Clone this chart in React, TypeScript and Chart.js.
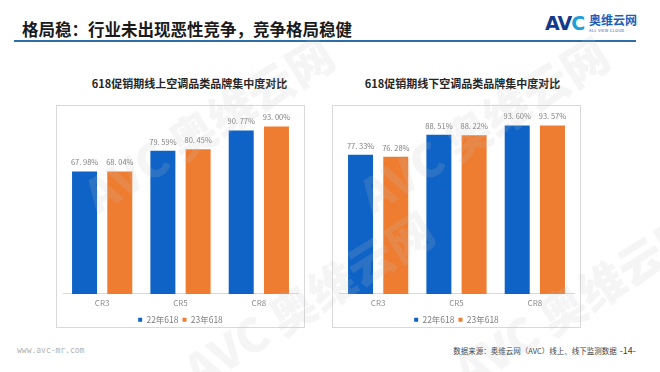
import React, { useEffect, useRef } from "react";
import { Chart, registerables } from "chart.js";
Chart.register(...registerables);

const categories = ["CR3", "CR5", "CR8"];
const seriesNames = ["22年618", "23年618"];
const onlineValues22 = [67.98, 79.59, 90.77];
const onlineValues23 = [68.04, 80.45, 93.0];
const offlineValues22 = [77.33, 88.51, 93.6];
const offlineValues23 = [76.28, 88.22, 93.57];

const BLUE = "#0f63c6";
const ORANGE = "#ef7d31";
const FONT = "'Noto Sans CJK SC', 'Noto Sans', sans-serif";

const labelPlugin = {
  id: "barLabels",
  afterDatasetsDraw(chart: any) {
    const ctx = chart.ctx;
    ctx.save();
    ctx.font = `7.5px ${FONT}`;
    ctx.fillStyle = "#7f7f7f";
    ctx.textAlign = "center";
    ctx.textBaseline = "middle";
    chart.data.datasets.forEach((ds: any, i: number) => {
      const meta = chart.getDatasetMeta(i);
      meta.data.forEach((bar: any, j: number) => {
        const v = ds.data[j] as number;
        ctx.fillText(v.toFixed(2).replace(".", ". ") + "%", bar.x, bar.y - 9);
      });
    });
    ctx.restore();
  },
};

function BarChart({ a, b }: { a: number[]; b: number[] }) {
  const ref = useRef<HTMLCanvasElement>(null);
  useEffect(() => {
    const common = { categoryPercentage: 0.9, barPercentage: 0.71, maxBarThickness: 25, borderWidth: 0 };
    const chart = new Chart(ref.current!, {
      type: "bar",
      data: {
        labels: categories,
        datasets: [
          { label: seriesNames[0], data: a, backgroundColor: BLUE, ...common },
          { label: seriesNames[1], data: b, backgroundColor: ORANGE, ...common },
        ],
      },
      options: {
        animation: false,
        responsive: false,
        maintainAspectRatio: false,
        layout: { padding: { left: 6, right: 6, top: 8, bottom: -7 } },
        plugins: {
          legend: {
            position: "bottom",
            labels: {
              boxWidth: 4,
              boxHeight: 4,
              padding: 4,
              color: "#7f7f7f",
              font: { size: 8.5, family: FONT },
            },
          },
          tooltip: { enabled: false },
        },
        scales: {
          x: {
            grid: { display: false, drawTicks: false },
            border: { display: true, color: "#d9d9d9" },
            ticks: { color: "#8c8c8c", font: { size: 8, family: FONT }, padding: 4 },
          },
          y: { display: false, min: 0, max: 100 },
        },
      },
      plugins: [labelPlugin],
    });
    return () => chart.destroy();
  }, []);
  return <canvas ref={ref} width={247} height={221} style={{ display: "block" }} />;
}

function Panel({ left, title, a, b, shift }: { left: number; title: string; a: number[]; b: number[]; shift: number }) {
  return (
    <>
      <div
        style={{
          position: "absolute",
          left: left + shift,
          top: 75,
          width: 249,
          textAlign: "center",
          fontFamily: FONT,
          fontWeight: 700,
          fontSize: 11,
          color: "#262626",
        }}
      >
        {title}
      </div>
      <div
        style={{
          position: "absolute",
          left,
          top: 105,
          width: 247,
          height: 221,
          border: "1px solid #d9d9d9",
        }}
      >
        <BarChart a={a} b={b} />
      </div>
    </>
  );
}

function Watermark({ x, y }: { x: number; y: number }) {
  return (
    <div
      style={{
        position: "absolute",
        left: x,
        top: y,
        transform: "rotate(-32deg)",
        transformOrigin: "left top",
        color: "rgba(190,190,190,0.16)",
        fontFamily: FONT,
        fontWeight: 900,
        fontSize: 46,
        whiteSpace: "nowrap",
        pointerEvents: "none",
        zIndex: 5,
      }}
    >
      AVC 奥维云网
    </div>
  );
}

export default function App() {
  return (
    <div
      style={{
        position: "fixed",
        left: 0,
        top: 0,
        width: 660,
        height: 372,
        background: "#fff",
        overflow: "hidden",
        fontFamily: FONT,
      }}
    >
      <div
        style={{
          position: "absolute",
          left: 22,
          top: 17,
          fontSize: 16.5,
          fontWeight: 700,
          color: "#1a1a1a",
        }}
      >
        格局稳：行业未出现恶性竞争，竞争格局稳健
      </div>
      <div style={{ position: "absolute", left: 14, top: 40, width: 622, height: 2, background: "#2f6fa8" }} />
      <div style={{ position: "absolute", left: 545, top: 12, display: "flex", alignItems: "center" }}>
        <span style={{ fontFamily: "'DejaVu Sans', sans-serif", fontWeight: 900, fontSize: 19, color: "#123a8a", letterSpacing: -1 }}>
          AV<span style={{ color: "#1ba0d8" }}>C</span>
        </span>
        <div style={{ marginLeft: 5, lineHeight: 1 }}>
          <div style={{ fontSize: 12, fontWeight: 700, color: "#1d5fb8" }}>奥维云网</div>
          <div style={{ fontSize: 4, color: "#1d5fb8", marginTop: 2, letterSpacing: 0.3 }}>ALL VIEW CLOUD</div>
        </div>
      </div>

      <Panel left={56} title="618促销期线上空调品类品牌集中度对比" a={onlineValues22} b={onlineValues23} shift={9} />
      <Panel left={332} title="618促销期线下空调品类品牌集中度对比" a={offlineValues22} b={offlineValues23} shift={6} />

      <Watermark x={70} y={170} />
      <Watermark x={345} y={170} />
      <Watermark x={170} y={345} />
      <Watermark x={440} y={345} />

      <div style={{ position: "absolute", left: 17, top: 346, fontSize: 8, color: "#b0b0b0", fontFamily: "'DejaVu Sans Mono', monospace" }}>
        www.avc-mr.com
      </div>
      <div style={{ position: "absolute", right: 24, top: 344, fontSize: 7.5, color: "#444", display: "flex", alignItems: "baseline" }}>
        数据来源：奥维云网（AVC）线上、线下监测数据
        <span style={{ fontSize: 9, marginLeft: 3 }}>-14-</span>
      </div>
    </div>
  );
}
